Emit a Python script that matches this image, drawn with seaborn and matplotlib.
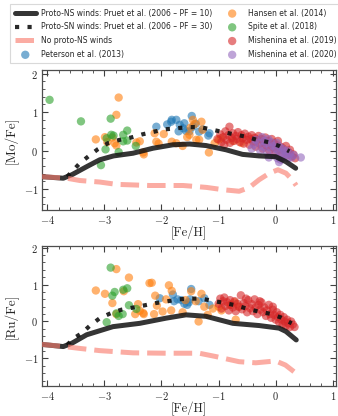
import numpy as np
import pandas as pd
import matplotlib
matplotlib.use('Agg')
import matplotlib.pyplot as plt
import seaborn as sns
from matplotlib.ticker import MultipleLocator

sns.set_style('ticks')
plt.rcParams['font.family'] = ['cmr10']
plt.rcParams['axes.formatter.use_mathtext'] = True
plt.rcParams['mathtext.fontset'] = 'cm'

# ---------------- model lines: top panel [Mo/Fe] ----------------
mo_pf10_x = [-4.1, -3.72, -3.57, -3.31, -3.08, -2.84, -2.5, -2.15, -1.80, -1.51, -1.22, -0.87, -0.58, -0.29, 0.0, 0.18, 0.35]
mo_pf10_y = [-0.68, -0.72, -0.63, -0.42, -0.24, -0.14, -0.07, 0.06, 0.15, 0.17, 0.13, 0.02, -0.10, -0.14, -0.16, -0.29, -0.46]
mo_pf30_x = [-3.65, -3.57, -3.43, -3.27, -3.11, -2.94, -2.73, -2.53, -2.34, -2.13, -1.95, -1.74, -1.52, -1.33, -1.13, -0.92, -0.72, -0.52, -0.33, -0.13, 0.06, 0.24]
mo_pf30_y = [-0.68, -0.55, -0.33, -0.14, 0.04, 0.19, 0.28, 0.34, 0.42, 0.49, 0.55, 0.58, 0.61, 0.61, 0.55, 0.48, 0.42, 0.36, 0.28, 0.22, 0.12, -0.02]
mo_none_x = [-4.1, -3.66, -3.43, -3.08, -2.79, -2.21, -1.62, -1.21, -0.92, -0.64, -0.46, -0.29, -0.11, 0.04, 0.18, 0.29, 0.36]
mo_none_y = [-0.68, -0.72, -0.78, -0.82, -0.88, -0.91, -0.91, -0.96, -1.02, -1.06, -0.96, -0.76, -0.59, -0.50, -0.59, -0.76, -0.91]

# ---------------- model lines: bottom panel [Ru/Fe] ----------------
ru_pf10_x = [-4.1, -3.72, -3.57, -3.31, -2.85, -2.38, -1.92, -1.57, -1.22, -0.75, -0.29, 0.06, 0.18, 0.36]
ru_pf10_y = [-0.62, -0.68, -0.59, -0.36, -0.14, -0.05, 0.09, 0.18, 0.14, -0.05, -0.11, -0.18, -0.27, -0.50]
ru_pf30_x = [-3.65, -3.56, -3.40, -3.25, -3.08, -2.88, -2.70, -2.49, -2.29, -2.10, -1.92, -1.71, -1.51, -1.31, -1.10, -0.90, -0.70, -0.49, -0.30, -0.10, 0.09, 0.28]
ru_pf30_y = [-0.64, -0.48, -0.32, -0.11, 0.09, 0.23, 0.32, 0.38, 0.44, 0.50, 0.54, 0.60, 0.62, 0.62, 0.56, 0.50, 0.44, 0.34, 0.27, 0.21, 0.11, -0.05]
ru_none_x = [-4.1, -3.70, -3.43, -3.08, -2.50, -1.92, -1.34, -1.05, -0.64, -0.35, 0.0, 0.17, 0.32]
ru_none_y = [-0.62, -0.68, -0.73, -0.79, -0.85, -0.86, -0.86, -0.95, -1.09, -1.12, -1.07, -1.18, -1.36]

# ---------------- observations: top panel [Mo/Fe] ----------------
mo_pet_x = [-2.09, -1.90, -1.82, -1.74, -1.68, -1.47, -1.57, -1.51, -1.45, -1.34, -1.16, -1.70, -1.18, -1.62, -1.40, -1.28, -1.83, -1.60]
mo_pet_y = [0.62, 0.68, 0.80, 0.80, 0.67, 0.90, 0.51, 0.50, 0.62, 0.49, 0.45, 0.50, 0.39, 0.58, 0.70, 0.55, 0.75, 0.71]
mo_han_x = [-3.15, -2.99, -2.86, -2.79, -2.75, -2.79, -2.44, -2.38, -2.31, -2.32, -2.12, -2.09, -1.96, -1.82, -1.74, -1.63, -1.51, -1.49, -1.45, -1.42, -1.39, -1.34, -1.28, -1.17, -1.07, -1.00, -0.96, -2.95, -1.30, -2.05, -1.55, -0.75, -0.60, -2.82]
mo_han_y = [0.29, 0.35, 0.34, 0.13, 1.38, 0.93, 0.21, 0.24, -0.10, -0.05, 0.45, 0.23, 0.43, 0.23, 0.19, 0.12, 0.41, 0.60, 0.80, 0.69, 0.28, 0.28, 0.54, -0.05, 0.19, 0.28, 0.32, 0.22, 0.75, 0.18, 0.35, 0.25, 0.20, 0.19]
mo_spi_x = [-3.96, -3.41, -2.89, -2.88, -2.96, -2.98, -3.06, -2.75, -2.67, -2.60, -2.60, -2.67, -2.45, -2.84]
mo_spi_y = [1.32, 0.76, 0.83, 0.41, 0.32, 0.03, -0.38, -0.04, 0.41, 0.52, 0.26, 0.24, 0.12, 0.39]
mo_m19_x = [-1.02, -0.97, -0.95, -0.92, -0.90, -0.88, -0.86, -0.83, -0.81, -0.80, -0.77, -0.75, -0.73, -0.70, -0.68, -0.66, -0.63, -0.60, -0.58, -0.56, -0.54, -0.51, -0.48, -0.46, -0.44, -0.42, -0.39, -0.37, -0.35, -0.32, -0.30, -0.28, -0.25, -0.23, -0.21, -0.18, -0.16, -0.14, -0.11, -0.09, -0.07, -0.05, -0.03, 0.00, 0.02, 0.04, 0.06, 0.09, 0.11, 0.13, 0.16, 0.18, 0.20, 0.23, 0.25, 0.28, 0.31, 0.34]
mo_m19_y = [0.30, 0.42, 0.22, 0.35, 0.15, 0.50, 0.28, 0.40, 0.62, 0.20, 0.33, 0.45, 0.25, 0.38, 0.30, 0.48, 0.22, 0.40, 0.32, 0.18, 0.44, 0.28, 0.36, 0.15, 0.30, 0.40, 0.22, 0.33, 0.10, 0.28, 0.38, 0.18, 0.30, 0.05, 0.22, 0.34, 0.12, 0.25, 0.00, 0.18, 0.30, 0.08, 0.20, -0.05, 0.14, 0.25, 0.02, 0.10, -0.10, 0.05, -0.02, 0.12, -0.12, -0.05, 0.02, -0.15, -0.10, -0.20]
mo_m20_x = [-0.42, -0.38, -0.35, -0.30, -0.27, -0.24, -0.22, -0.20, -0.17, -0.15, -0.13, -0.10, -0.08, -0.05, -0.03, 0.00, 0.02, 0.03, 0.05, 0.07, 0.09, 0.10, 0.12, 0.14, 0.16, 0.18, 0.20, 0.22, 0.25, 0.28, 0.32, 0.44, -0.12, 0.06]
mo_m20_y = [0.05, 0.15, 0.28, 0.20, 0.00, 0.35, 0.10, 0.25, 0.18, -0.05, 0.30, 0.08, 0.22, 0.12, -0.10, 0.05, 0.20, -0.20, 0.00, 0.10, -0.24, -0.08, 0.05, -0.15, -0.02, -0.11, 0.00, -0.20, -0.08, -0.18, -0.12, -0.18, -0.18, -0.30]

# ---------------- observations: bottom panel [Ru/Fe] ----------------
ru_pet_x = [-1.48, -1.80, -1.72, -1.65, -1.60, -1.55, -1.50, -1.25, -1.16, -2.03, -1.78, -1.52, -1.35]
ru_pet_y = [0.88, 0.73, 0.60, 0.58, 0.48, 0.45, 0.60, 0.63, 0.45, 0.63, 0.55, 0.52, 0.55]
ru_han_x = [-2.79, -2.57, -3.15, -2.99, -2.86, -2.66, -2.79, -2.46, -2.41, -2.38, -2.31, -2.21, -2.17, -1.87, -1.82, -2.11, -2.32, -2.08, -1.98, -1.83, -1.63, -1.35, -1.48, -1.30, -1.19, -1.10, -1.00, -0.95, -2.13, -1.92, -1.58, -1.40, -1.25, -0.80, -0.72, -0.70, -0.65]
ru_han_y = [1.42, 1.19, 0.84, 0.75, 0.50, 0.82, 0.20, 0.20, 0.47, 0.29, 0.20, 1.04, 1.05, 0.98, 0.83, 0.70, 0.23, 0.43, 0.27, 0.30, 0.25, 0.00, 0.82, 0.75, 0.18, 0.35, 0.40, 0.30, 0.20, 0.60, 0.58, 0.55, 0.40, 0.45, 0.52, 0.05, 0.40]
ru_spi_x = [-2.89, -2.86, -2.82, -2.67, -2.60, -2.96, -2.75, -2.68, -2.57, -2.44, -2.79]
ru_spi_y = [1.46, 0.70, 0.80, 0.86, 0.90, -0.02, 0.15, 0.20, 0.44, 0.34, 0.22]
ru_m19_x = [-1.00, -0.97, -0.95, -0.92, -0.90, -0.88, -0.85, -0.82, -0.80, -0.78, -0.75, -0.72, -0.70, -0.67, -0.64, -0.61, -0.59, -0.56, -0.53, -0.50, -0.48, -0.45, -0.42, -0.40, -0.37, -0.35, -0.32, -0.30, -0.27, -0.25, -0.22, -0.20, -0.17, -0.15, -0.12, -0.10, -0.08, -0.05, -0.03, 0.00, 0.02, 0.04, 0.06, 0.08, 0.10, 0.12, 0.14, 0.16, 0.18, 0.20, 0.22, 0.25, 0.27, 0.30, 0.33, -0.52, -0.28, -0.05]
ru_m19_y = [0.48, 0.62, 0.35, 0.55, 0.65, 0.42, 0.52, 0.30, 0.58, 0.45, 0.38, 0.55, 0.28, 0.48, 0.40, 0.71, 0.33, 0.50, 0.42, 0.25, 0.58, 0.36, 0.47, 0.28, 0.60, 0.38, 0.20, 0.45, 0.32, 0.52, 0.25, 0.38, 0.15, 0.30, 0.45, 0.20, 0.10, 0.32, 0.18, 0.05, 0.25, 0.12, -0.02, 0.18, 0.05, -0.08, 0.12, 0.00, -0.12, 0.05, -0.05, -0.15, 0.00, -0.08, -0.15, 0.62, 0.55, 0.40]

labels = ['Proto-NS winds: Pruet et al. (2006 – PF = 10)',
          'Proto-SN winds: Pruet et al. (2006 – PF = 30)',
          'No proto-NS winds',
          'Peterson et al. (2013)', 'Hansen et al. (2014)', 'Spite et al. (2018)',
          'Mishenina et al. (2019)', 'Mishenina et al. (2020)']
obs_colors = ['#1f77b4', '#ff7f0e', '#2ca02c', '#d62728', '#9467bd']

fig = plt.figure(figsize=(3.38, 4.16), dpi=100)
ax1 = fig.add_axes([0.123, 0.495, 0.870, 0.337])
ax2 = fig.add_axes([0.123, 0.072, 0.870, 0.337])


def draw(ax, lines, obs, ylab, ylim):
    for (ox, oy), col, lab in zip(obs, obs_colors, labels[3:]):
        if ox is None:
            continue
        sns.scatterplot(x=ox, y=oy, ax=ax, color=col, alpha=0.6, s=36,
                        edgecolor='none', label=lab, legend=False, zorder=2)
    (x10, y10), (x30, y30), (xn, yn) = lines
    sns.lineplot(x=x10, y=y10, ax=ax, sort=False, estimator=None, color='#111111',
                 alpha=0.85, lw=3.6, label=labels[0], legend=False, zorder=4)
    sns.lineplot(x=x30, y=y30, ax=ax, sort=False, estimator=None, color='#111111',
                 alpha=0.9, lw=3.0, label=labels[1], legend=False, zorder=5)
    ax.lines[-1].set_linestyle((0, (1, 2)))
    ax.lines[-1].set_dash_capstyle('butt')
    sns.lineplot(x=xn, y=yn, ax=ax, sort=False, estimator=None, color='#fa8072',
                 alpha=0.65, lw=3.6, label=labels[2], legend=False, zorder=6)
    ax.lines[-1].set_linestyle((0, (3.7, 1.6)))
    ax.set_xlim(-4.1, 1.05)
    ax.set_ylim(*ylim)
    ax.xaxis.set_major_locator(MultipleLocator(1))
    ax.xaxis.set_minor_locator(MultipleLocator(0.2))
    ax.yaxis.set_major_locator(MultipleLocator(1))
    ax.yaxis.set_minor_locator(MultipleLocator(0.2))
    ax.tick_params(which='both', direction='in', top=True, right=True,
                   color='0.25', labelsize=7.5, pad=2.5)
    ax.tick_params(which='major', length=4, width=0.8)
    ax.tick_params(which='minor', length=2, width=0.6)
    for s in ax.spines.values():
        s.set_color('0.3')
        s.set_linewidth(0.9)
    ax.set_xlabel('[Fe/H]', fontsize=9, labelpad=0)
    ax.set_ylabel(ylab, fontsize=9.5, labelpad=4)


draw(ax1, [(mo_pf10_x, mo_pf10_y), (mo_pf30_x, mo_pf30_y), (mo_none_x, mo_none_y)],
     [(mo_pet_x, mo_pet_y), (mo_han_x, mo_han_y), (mo_spi_x, mo_spi_y),
      (mo_m19_x, mo_m19_y), (mo_m20_x, mo_m20_y)], '[Mo/Fe]', (-1.55, 2.1))
draw(ax2, [(ru_pf10_x, ru_pf10_y), (ru_pf30_x, ru_pf30_y), (ru_none_x, ru_none_y)],
     [(ru_pet_x, ru_pet_y), (ru_han_x, ru_han_y), (ru_spi_x, ru_spi_y),
      (ru_m19_x, ru_m19_y), (None, None)], '[Ru/Fe]', (-1.75, 2.05))

h, l = ax1.get_legend_handles_labels()
order = [l.index(name) for name in labels]
leg = fig.legend([h[i] for i in order], [l[i] for i in order], ncol=2,
                 loc='upper left', bbox_to_anchor=(10 / 338, 1 - 4 / 416),
                 prop={'family': ['DejaVu Sans'], 'size': 5.5},
                 frameon=True, fancybox=False, edgecolor='0.85', framealpha=1,
                 handlelength=2.8, handletextpad=0.65, columnspacing=1.2,
                 labelspacing=0.62, borderpad=0.6, borderaxespad=0, markerscale=1.0)
leg.get_frame().set_linewidth(0.8)

fig.savefig('out.png', dpi=100)
